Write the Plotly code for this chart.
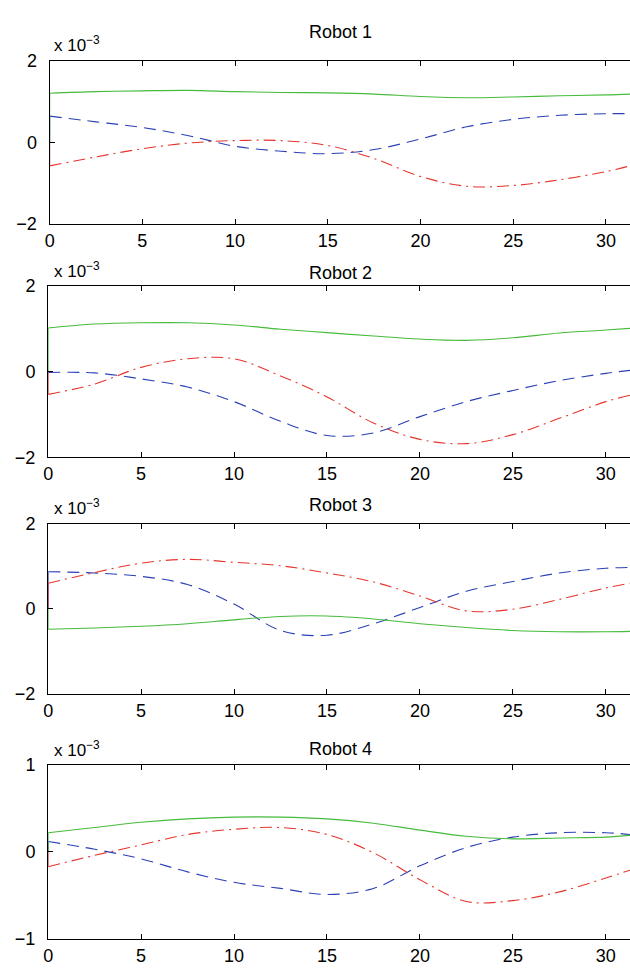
import plotly.graph_objects as go

# time samples (s); values in units of 1e-3
t = [0, 2.5, 5, 7.5, 10, 12.5, 15, 17.5, 20, 22.5, 25, 27.5, 30, 31.3]
start_value = 0.0

r1_green = [1.20, 1.24, 1.26, 1.27, 1.24, 1.22, 1.21, 1.18, 1.12, 1.09, 1.11, 1.14, 1.16, 1.18]
r1_blue = [0.64, 0.50, 0.36, 0.16, -0.10, -0.22, -0.28, -0.18, 0.08, 0.38, 0.56, 0.66, 0.70, 0.70]
r1_red = [-0.58, -0.36, -0.16, -0.02, 0.04, 0.04, -0.08, -0.40, -0.84, -1.08, -1.06, -0.92, -0.72, -0.58]

r2_green = [1.02, 1.11, 1.14, 1.14, 1.09, 0.99, 0.91, 0.83, 0.76, 0.73, 0.79, 0.90, 0.97, 1.01]
r2_blue = [-0.02, -0.03, -0.17, -0.36, -0.70, -1.16, -1.49, -1.43, -1.05, -0.70, -0.44, -0.21, -0.04, 0.03]
r2_red = [-0.53, -0.29, 0.10, 0.30, 0.30, -0.10, -0.59, -1.20, -1.58, -1.68, -1.47, -1.09, -0.70, -0.55]

r3_green = [-0.48, -0.45, -0.41, -0.35, -0.26, -0.18, -0.17, -0.24, -0.35, -0.44, -0.51, -0.54, -0.54, -0.53]
r3_blue = [0.87, 0.84, 0.76, 0.57, 0.11, -0.51, -0.62, -0.35, 0.03, 0.41, 0.64, 0.84, 0.95, 0.97]
r3_red = [0.60, 0.85, 1.07, 1.16, 1.09, 1.01, 0.84, 0.63, 0.30, -0.05, -0.01, 0.22, 0.49, 0.60]

r4_green = [0.22, 0.28, 0.34, 0.38, 0.40, 0.40, 0.38, 0.33, 0.25, 0.18, 0.15, 0.16, 0.17, 0.19]
r4_blue = [0.12, 0.03, -0.08, -0.23, -0.35, -0.42, -0.49, -0.42, -0.16, 0.05, 0.17, 0.22, 0.22, 0.20]
r4_red = [-0.17, -0.04, 0.08, 0.20, 0.26, 0.28, 0.20, -0.01, -0.32, -0.57, -0.56, -0.46, -0.30, -0.21]

titles = ["Robot 1", "Robot 2", "Robot 3", "Robot 4"]
x_ticks = [0, 5, 10, 15, 20, 25, 30]
y_ticks = [[-2, 0, 2], [-2, 0, 2], [-2, 0, 2], [-1, 0, 1]]
multiplier_label = "x 10<sup>\u22123</sup>"

robots = [
    (r1_blue, r1_red, r1_green),
    (r2_blue, r2_red, r2_green),
    (r3_blue, r3_red, r3_green),
    (r4_blue, r4_red, r4_green),
]

W, H = 630, 976
# pixel layout: (left, top, bottom)
boxes = [(45, 51.7, 218.3), (43.5, 281.7, 456.7), (43.5, 524.3, 698.3), (43.5, 770.7, 948.3)]
title_y = [22, 268, 505, 754]
mult_y = [35, 265, 507, 754]

BLUE = "#2a40b4"
RED = "#e5352c"
GREEN = "#46bb3c"
FONT = "Liberation Sans, Arial, sans-serif"

styles = [(BLUE, "12px,7px"), (RED, "12px,5px,2px,5px"), (GREEN, "solid")]

fig = go.Figure()
annotations = []
for i, series in enumerate(robots):
    ax = "" if i == 0 else str(i + 1)
    for vals, (col, dash) in zip(series, styles):
        # initial jump from zero at t=0
        fig.add_trace(go.Scatter(x=[t[0], t[0]], y=[start_value, vals[0]], mode="lines",
                                 line=dict(color=col, width=1.1), xaxis="x" + ax, yaxis="y" + ax,
                                 showlegend=False, hoverinfo="skip"))
        fig.add_trace(go.Scatter(x=t, y=vals, mode="lines",
                                 line=dict(color=col, width=1.1, dash=dash, shape="spline", smoothing=1.0),
                                 xaxis="x" + ax, yaxis="y" + ax, showlegend=False))
    left, top, bottom = boxes[i]
    yt = y_ticks[i]
    axis_common = dict(showline=True, linecolor="black", linewidth=1.3, ticks="inside",
                       ticklen=5, tickcolor="black", tickwidth=1, showgrid=False, zeroline=False,
                       tickfont=dict(family=FONT, size=18, color="black"))
    fig.update_layout(**{
        "xaxis" + ax: dict(domain=[left / W, 1.0], range=[0, 31.3], tickvals=x_ticks,
                           mirror="ticks", anchor="y" + ax, ticklabelstandoff=0, **axis_common),
        "yaxis" + ax: dict(domain=[1 - bottom / H, 1 - top / H], range=[yt[0], yt[-1]],
                           tickvals=yt, anchor="x" + ax, ticklabelstandoff=8, **axis_common),
    })
    annotations.append(dict(text=titles[i], x=338 / W, y=1 - title_y[i] / H, xref="paper", yref="paper",
                            showarrow=False, xanchor="center", yanchor="middle",
                            font=dict(family=FONT, size=18, color="black")))
    annotations.append(dict(text=multiplier_label, x=47 / W, y=1 - mult_y[i] / H, xref="paper",
                            yref="paper", showarrow=False, xanchor="left", yanchor="middle",
                            font=dict(family=FONT, size=17, color="black")))

fig.update_layout(width=W, height=H, margin=dict(l=0, r=0, t=0, b=0),
                  paper_bgcolor="white", plot_bgcolor="white", annotations=annotations)
fig.write_html("out.html")
